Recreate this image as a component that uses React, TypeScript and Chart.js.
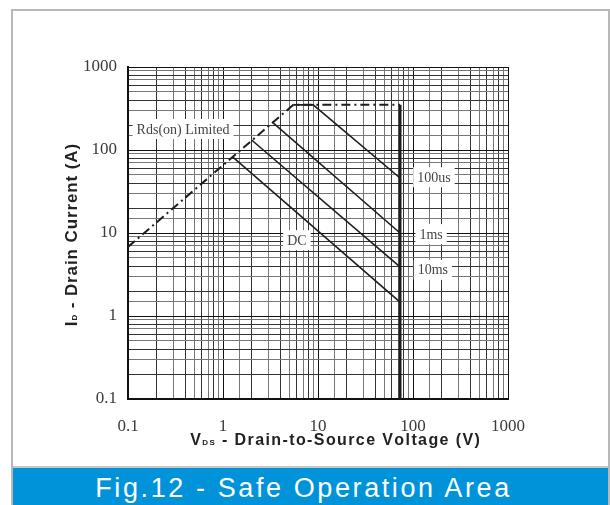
import React, { useEffect, useRef } from "react";
import { Chart, registerables } from "chart.js";

Chart.register(...registerables);

// Safe operating area curves (VDS in V, ID in A)
const rdsV = [0.1, 5.5, 73];
const rdsI = [6.8, 350, 350];
const limitV = [73, 73];
const limitI = [350, 0.1];
const us100V = [5.5, 8.9, 73];
const us100I = [350, 350, 46];
const ms1V = [3.3, 73];
const ms1I = [217, 10];
const ms10V = [2.0, 73];
const ms10I = [132, 3.9];
const dcV = [1.27, 73];
const dcI = [82, 1.47];

const labelTexts = ["Rds(on) Limited", "100us", "1ms", "10ms", "DC"];
const labelV = [0.38, 166, 155, 162, 6.0];
const labelI = [179, 47, 9.7, 3.6, 8.2];

const xTickLabels = ["0.1", "1", "10", "100", "1000"];
const yTickLabels = ["0.1", "1", "10", "100", "1000"];

const pts = (xs: number[], ys: number[]) => xs.map((x, i) => ({ x, y: ys[i] }));

const isPow10 = (v: number) => {
  const l = Math.log10(v);
  return Math.abs(l - Math.round(l)) < 1e-6;
};
const fmt = (v: number, list: string[]) => {
  const s = list.find((t) => Math.abs(parseFloat(t) - v) < 1e-9);
  return s ?? "";
};

type Part = [string, string];
const spacedWidth = (ctx: any, parts: Part[], sp: number) => {
  let w = 0;
  parts.forEach(([t, f]) => {
    ctx.font = f;
    for (const ch of t) w += ctx.measureText(ch).width + sp;
  });
  return w - sp;
};
const drawSpaced = (ctx: any, parts: Part[], sp: number, x: number, y: number) => {
  let cx = x;
  parts.forEach(([t, f]) => {
    ctx.font = f;
    for (const ch of t) {
      ctx.fillText(ch, cx, y);
      cx += ctx.measureText(ch).width + sp;
    }
  });
};

const overlayPlugin = {
  id: "overlay",
  afterDatasetsDraw(chart: any) {
    const { ctx, scales } = chart;
    const xs = scales.x;
    const ys = scales.y;
    ctx.save();
    // annotation labels with white boxes
    ctx.font = "14px 'Liberation Serif'";
    ctx.textAlign = "center";
    ctx.textBaseline = "middle";
    labelTexts.forEach((t, i) => {
      const px = xs.getPixelForValue(labelV[i]);
      const py = ys.getPixelForValue(labelI[i]);
      const w = ctx.measureText(t).width + 8;
      ctx.fillStyle = "#ffffff";
      ctx.fillRect(px - w / 2, py - 10, w, 20);
      ctx.fillStyle = "#444";
      ctx.fillText(t, px, py + 1);
    });
    ctx.fillStyle = "#222";
    ctx.textAlign = "left";
    ctx.textBaseline = "alphabetic";
    // x axis title with subscript
    const bigX = "bold 16px 'Liberation Sans'";
    const smallX = "bold 8px 'Liberation Sans'";
    const xParts: Part[] = [
      ["V", bigX],
      ["DS", smallX],
      [" - Drain-to-Source Voltage (V)", bigX],
    ];
    const xw = spacedWidth(ctx, xParts, 1.4);
    drawSpaced(ctx, xParts, 1.4, 335 - xw / 2, 445);
    // y axis title rotated
    const bigY = "bold 17px 'Liberation Sans'";
    const smallY = "bold 8px 'Liberation Sans'";
    const yParts: Part[] = [
      ["I", bigY],
      ["D", smallY],
      [" - Drain Current (A)", bigY],
    ];
    const yw = spacedWidth(ctx, yParts, 0.9);
    ctx.translate(77, 235);
    ctx.rotate(-Math.PI / 2);
    drawSpaced(ctx, yParts, 0.9, -yw / 2, 0);
    ctx.restore();
  },
};

const gridColor = (ctx: any) => {
  const v = ctx.tick ? ctx.tick.value : 1;
  if (isPow10(v)) return "#111";
  return ctx.index % 2 ? "#333" : "#777";
};

export default function App() {
  const ref = useRef<HTMLCanvasElement | null>(null);
  useEffect(() => {
    if (!ref.current) return;
    const line = "#1e1e1e";
    const chart = new Chart(ref.current, {
      type: "scatter",
      data: {
        datasets: [
          { data: pts(rdsV, rdsI), showLine: true, borderColor: line, borderWidth: 2, borderDash: [9, 4, 2, 4], pointRadius: 0 },
          { data: pts(limitV, limitI), showLine: true, borderColor: line, borderWidth: 3, pointRadius: 0 },
          { data: pts(us100V, us100I), showLine: true, borderColor: line, borderWidth: 1.6, pointRadius: 0 },
          { data: pts(ms1V, ms1I), showLine: true, borderColor: line, borderWidth: 1.6, pointRadius: 0 },
          { data: pts(ms10V, ms10I), showLine: true, borderColor: line, borderWidth: 1.6, pointRadius: 0 },
          { data: pts(dcV, dcI), showLine: true, borderColor: line, borderWidth: 1.6, pointRadius: 0 },
        ],
      },
      options: {
        animation: false,
        responsive: false,
        maintainAspectRatio: false,
        layout: { padding: { left: 0, right: 102, top: 67, bottom: 0 } },
        plugins: { legend: { display: false }, tooltip: { enabled: false } },
        scales: {
          x: {
            type: "logarithmic",
            min: 0.1,
            max: 1000,
            afterFit: (s: any) => {
              s.height = 69;
            },
            grid: { color: gridColor, lineWidth: 1, drawTicks: false },
            border: { display: true, color: "#111", width: 2 },
            ticks: {
              autoSkip: false,
              maxRotation: 0,
              padding: 17,
              color: "#3a3a3a",
              font: { family: "'Liberation Serif'", size: 17 },
              callback: (v: any) => (isPow10(Number(v)) ? fmt(Number(v), xTickLabels) : ""),
            },
          },
          y: {
            type: "logarithmic",
            min: 0.1,
            max: 1000,
            afterFit: (s: any) => {
              s.width = 128;
            },
            grid: { color: gridColor, lineWidth: 1, drawTicks: false },
            border: { display: true, color: "#111", width: 2 },
            ticks: {
              autoSkip: false,
              padding: 11,
              color: "#3a3a3a",
              font: { family: "'Liberation Serif'", size: 17 },
              callback: (v: any) => (isPow10(Number(v)) ? fmt(Number(v), yTickLabels) : ""),
            },
          },
        },
      },
      plugins: [overlayPlugin],
    } as any);
    return () => chart.destroy();
  }, []);

  return (
    <div style={{ position: "fixed", left: 0, top: 0, width: 610, height: 505, background: "#fff", overflow: "hidden" }}>
      <div
        style={{
          position: "absolute",
          left: 11,
          top: 9,
          width: 595,
          height: 496,
          borderLeft: "2px solid #b8b8b8",
          borderTop: "2px solid #b8b8b8",
          borderRight: "2px solid #b8b8b8",
        }}
      />
      <canvas ref={ref} width={610} height={468} style={{ position: "absolute", left: 0, top: 0, width: 610, height: 468 }} />
      <div
        style={{
          position: "absolute",
          left: 13,
          top: 466,
          width: 595,
          height: 2,
          background: "#c8c8c8",
        }}
      />
      <div
        style={{
          position: "absolute",
          left: 13,
          top: 468,
          width: 595,
          height: 37,
          boxSizing: "border-box",
          paddingRight: 14,
          background: "#0093d9",
          color: "#fff",
          fontFamily: "'Liberation Sans', Arial, sans-serif",
          fontSize: 27,
          letterSpacing: 2.6,
          lineHeight: "40px",
          textAlign: "center",
          whiteSpace: "nowrap",
        }}
      >
        Fig.12 - Safe Operation Area
      </div>
    </div>
  );
}
